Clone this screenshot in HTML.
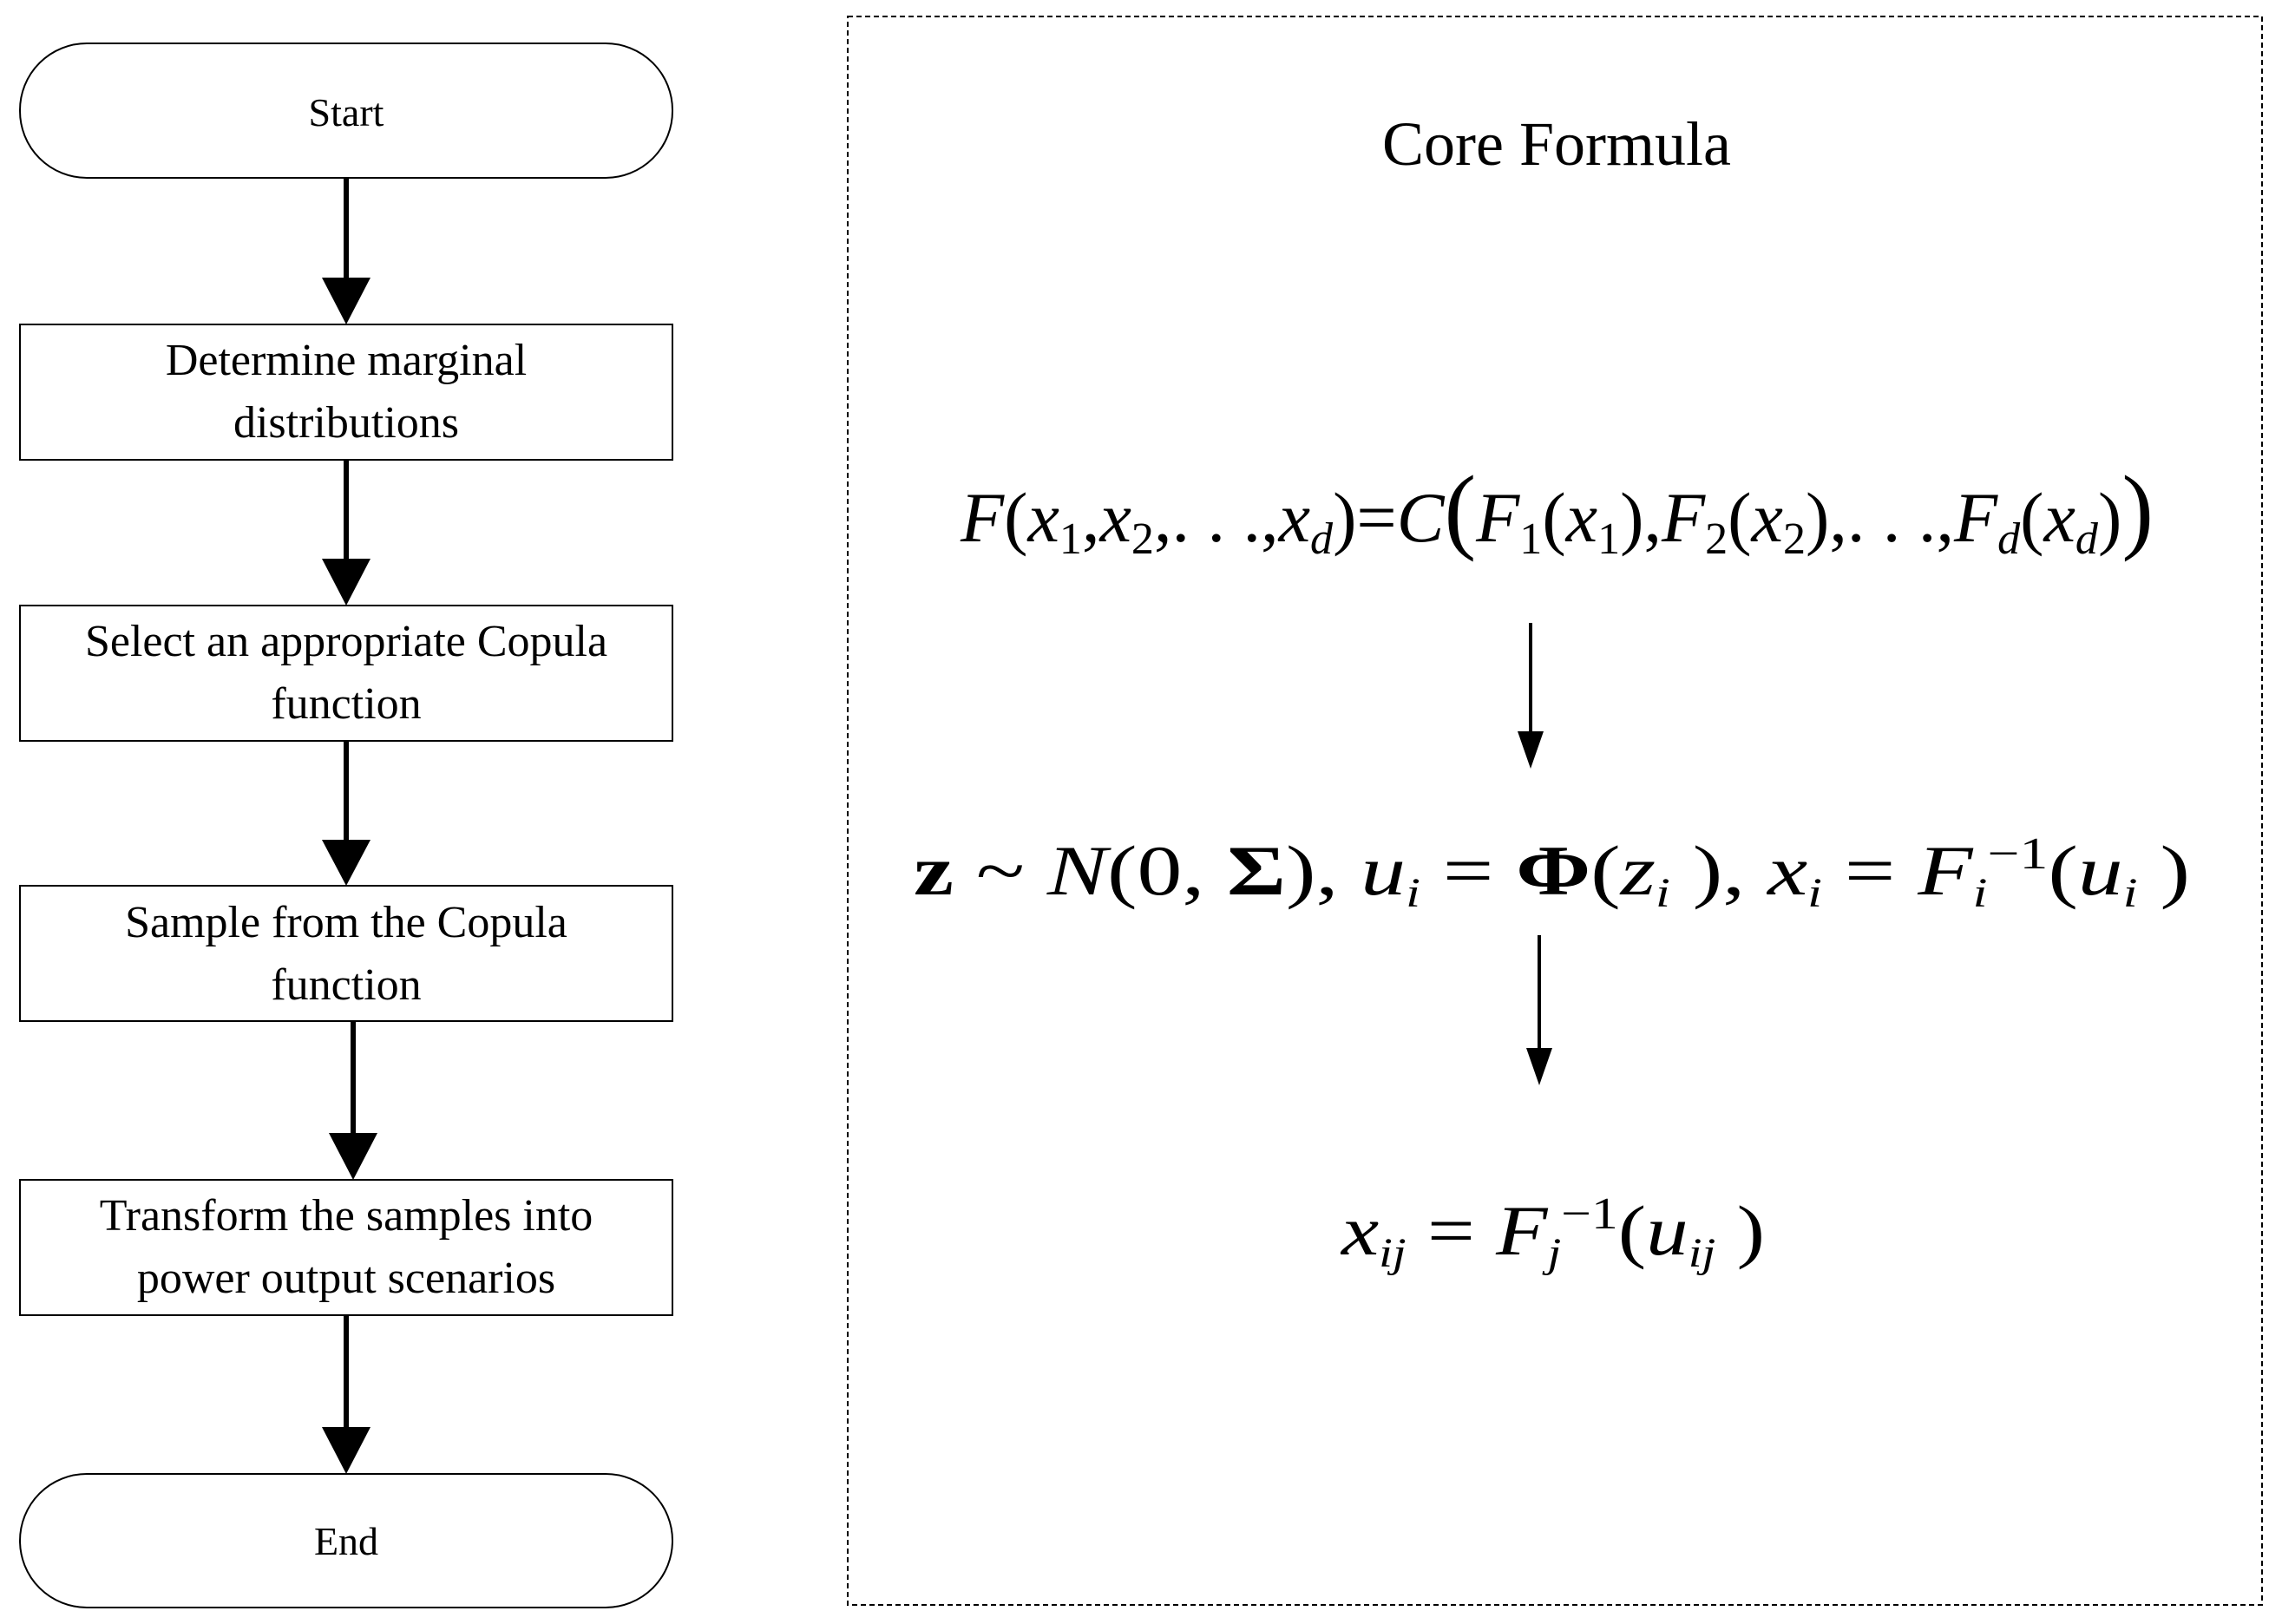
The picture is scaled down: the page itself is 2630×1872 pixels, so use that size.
<!DOCTYPE html>
<html><head><style>body{margin:0;background:#fff}svg{display:block}</style></head>
<body>
<svg width="2630" height="1872" viewBox="0 0 2630 1872" xmlns="http://www.w3.org/2000/svg" font-family="Liberation Serif, serif">
<defs><marker id="a" markerWidth="10" markerHeight="10" refX="5" refY="9" orient="auto" markerUnits="userSpaceOnUse" viewBox="0 0 10 10"><path d="M0,0 L10,0 L5,10 z"/></marker></defs>
<g fill="none" stroke="#000" stroke-width="2">
<rect x="23" y="50" width="752" height="155" rx="77"/>
<rect x="23" y="374" width="752" height="156"/>
<rect x="23" y="698" width="752" height="156"/>
<rect x="23" y="1021" width="752" height="156"/>
<rect x="23" y="1360" width="752" height="156"/>
<rect x="23" y="1699" width="752" height="154" rx="77"/>
<rect x="977" y="19" width="1630" height="1831" stroke-dasharray="6,4"/>
</g>
<g stroke="#000" stroke-width="6">
<line x1="399" y1="205" x2="399" y2="322"/>
<line x1="399" y1="530" x2="399" y2="646"/>
<line x1="399" y1="854" x2="399" y2="970"/>
<line x1="407" y1="1177" x2="407" y2="1308"/>
<line x1="399" y1="1516" x2="399" y2="1647"/>
</g>
<g fill="#000">
<path d="M371,320 L427,320 L399,374z"/>
<path d="M371,644 L427,644 L399,698z"/>
<path d="M371,968 L427,968 L399,1021z"/>
<path d="M379,1306 L435,1306 L407,1360z"/>
<path d="M371,1645 L427,1645 L399,1699z"/>
</g>
<g stroke="#000" stroke-width="4"><line x1="1764" y1="718" x2="1764" y2="845"/><line x1="1774" y1="1078" x2="1774" y2="1210"/></g>
<path d="M1749,843 L1779,843 L1764,886z"/><path d="M1759,1208 L1789,1208 L1774,1251z"/>
<g font-size="52" text-anchor="middle">
<text x="399" y="145" font-size="46">Start</text>
<text x="399" y="432">Determine marginal</text>
<text x="399" y="504">distributions</text>
<text x="399" y="756">Select an appropriate Copula</text>
<text x="399" y="828">function</text>
<text x="399" y="1080">Sample from the Copula</text>
<text x="399" y="1152">function</text>
<text x="399" y="1418">Transform the samples into</text>
<text x="399" y="1490">power output scenarios</text>
<text x="399" y="1792" font-size="46">End</text>
<text x="1794" y="190" font-size="72">Core Formula</text>
</g>
<g font-size="82">
<text x="1107" y="624" textLength="1375" lengthAdjust="spacingAndGlyphs"><tspan font-style="italic">F</tspan>(<tspan font-style="italic">x</tspan><tspan font-size="52" dy="14">1</tspan><tspan dy="-14">,</tspan><tspan font-style="italic">x</tspan><tspan font-size="52" dy="14">2</tspan><tspan dy="-14">,. . .,</tspan><tspan font-style="italic">x</tspan><tspan font-size="52" dy="14" font-style="italic">d</tspan><tspan dy="-14">)=</tspan><tspan font-style="italic">C</tspan><tspan font-size="110">(</tspan><tspan font-style="italic">F</tspan><tspan font-size="52" dy="14">1</tspan><tspan dy="-14">(</tspan><tspan font-style="italic">x</tspan><tspan font-size="52" dy="14">1</tspan><tspan dy="-14">),</tspan><tspan font-style="italic">F</tspan><tspan font-size="52" dy="14">2</tspan><tspan dy="-14">(</tspan><tspan font-style="italic">x</tspan><tspan font-size="52" dy="14">2</tspan><tspan dy="-14">),. . .,</tspan><tspan font-style="italic">F</tspan><tspan font-size="52" dy="14" font-style="italic">d</tspan><tspan dy="-14">(</tspan><tspan font-style="italic">x</tspan><tspan font-size="52" dy="14" font-style="italic">d</tspan><tspan dy="-14">)</tspan><tspan font-size="110">)</tspan></text>
<text x="1053" y="1031" textLength="1471" lengthAdjust="spacingAndGlyphs"><tspan font-weight="bold">z</tspan> ~ <tspan font-style="italic">N</tspan>(0, <tspan font-weight="bold">Σ</tspan>),    <tspan font-style="italic">u</tspan><tspan font-size="48" dy="14" font-style="italic">i</tspan><tspan dy="-14"> = </tspan><tspan font-weight="bold">Φ</tspan>(<tspan font-style="italic">z</tspan><tspan font-size="48" dy="14" font-style="italic">i</tspan><tspan dy="-14"> ),    </tspan><tspan font-style="italic">x</tspan><tspan font-size="48" dy="14" font-style="italic">i</tspan><tspan dy="-14"> = </tspan><tspan font-style="italic">F</tspan><tspan font-size="48" dy="14" font-style="italic">i</tspan><tspan font-size="52" dy="-44">−1</tspan><tspan dy="30">(</tspan><tspan font-style="italic">u</tspan><tspan font-size="48" dy="14" font-style="italic">i</tspan><tspan dy="-14"> )</tspan></text>
<text x="1546" y="1446" textLength="488" lengthAdjust="spacingAndGlyphs"><tspan font-style="italic">x</tspan><tspan font-size="48" dy="14" font-style="italic">ij</tspan><tspan dy="-14"> = </tspan><tspan font-style="italic">F</tspan><tspan font-size="48" dy="14" font-style="italic">j</tspan><tspan font-size="52" dy="-44">−1</tspan><tspan dy="30">(</tspan><tspan font-style="italic">u</tspan><tspan font-size="48" dy="14" font-style="italic">ij</tspan><tspan dy="-14"> )</tspan></text>
</g>
</svg>
</body></html>
